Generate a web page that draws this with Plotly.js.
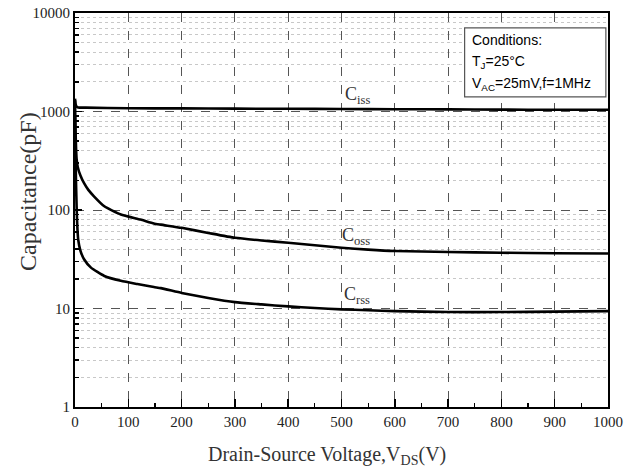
<!DOCTYPE html>
<html><head><meta charset="utf-8">
<script src="https://cdn.plot.ly/plotly-3.0.1.min.js"></script>
<style>html,body{margin:0;padding:0;background:#fff}#plot{width:635px;height:475px}</style>
</head><body><div id="plot"></div>
<script>
// Drain-source voltage (V) and capacitances (pF)
const vCiss = [0, 1, 3, 6, 20, 100, 200, 300, 400, 500, 600, 700, 800, 900, 1000];
const ciss  = [1350, 1200, 1120, 1100, 1095, 1080, 1075, 1070, 1065, 1060, 1055, 1050, 1045, 1042, 1040];

const vCoss = [0, 1, 2, 3, 5, 10, 17, 25, 36, 55, 86, 123, 148, 161, 200, 250, 300, 350, 400, 450, 500, 550, 600, 700, 800, 900, 1000];
const coss  = [1300, 650, 420, 330, 275, 225, 187, 160, 137, 109, 90, 80, 73, 71, 65.9, 58.5, 52.2, 49, 46.5, 43.8, 41.4, 39.6, 38.3, 37.5, 36.8, 36.4, 36.2];

const vCrss = [0, 1, 2, 3, 4, 6, 10, 17, 30, 55, 86, 117, 148, 161, 200, 250, 300, 350, 400, 450, 500, 550, 600, 700, 800, 900, 1000];
const crss  = [900, 350, 180, 110, 75, 50, 39, 31.6, 26, 21.4, 19.1, 17.7, 16.5, 16.1, 14.4, 12.8, 11.6, 11.0, 10.5, 10.1, 9.8, 9.6, 9.4, 9.2, 9.2, 9.3, 9.4];

const xTicks = [0, 100, 200, 300, 400, 500, 600, 700, 800, 900, 1000];
const yTicks = [1, 10, 100, 1000, 10000];
const yTickText = ['1', '10', '100', '1000', '10000'];

const line = {color: '#000', width: 2.6, shape: 'spline', smoothing: 0.5};
const traces = [
  {x: vCiss, y: ciss, mode: 'lines', line: line, hoverinfo: 'skip'},
  {x: vCoss, y: coss, mode: 'lines', line: line, hoverinfo: 'skip'},
  {x: vCrss, y: crss, mode: 'lines', line: line, hoverinfo: 'skip'}
];

const serif = 'Liberation Serif, serif';
const sans = 'Liberation Sans, Arial, sans-serif';
const labelFont = {family: serif, size: 18, color: '#333'};
const condFont = {family: sans, size: 14, color: '#000'};

const layout = {
  width: 635, height: 475,
  margin: {l: 75, r: 27, t: 13, b: 68},
  paper_bgcolor: '#fff', plot_bgcolor: '#fff',
  showlegend: false,
  xaxis: {
    range: [0, 1000], tickvals: xTicks, ticktext: xTicks.map(String),
    ticks: 'inside', ticklen: 8, tickwidth: 1.5, tickcolor: '#000',
    minor: {dtick: 50, ticks: 'inside', ticklen: 4, tickwidth: 1.2, tickcolor: '#000', showgrid: false},
    showgrid: true, gridcolor: '#555', griddash: 'dash', gridwidth: 1,
    showline: true, linecolor: '#000', linewidth: 2, mirror: true,
    zeroline: false,
    tickfont: {family: serif, size: 15, color: '#222'}
  },
  yaxis: {
    type: 'log', range: [0, 4], tickvals: yTicks, ticktext: yTickText,
    ticks: 'inside', ticklen: 7, tickwidth: 1.5, tickcolor: '#000',
    minor: {tickvals: [2,3,4,5,6,7,8,9,20,30,40,50,60,70,80,90,200,300,400,500,600,700,800,900,2000,3000,4000,5000,6000,7000,8000,9000],
            ticks: 'inside', ticklen: 4, tickwidth: 1.5, tickcolor: '#000',
            showgrid: true, gridcolor: '#c8c8c8', griddash: 'dot', gridwidth: 1},
    showgrid: true, gridcolor: '#555', griddash: 'dash', gridwidth: 1,
    showline: true, linecolor: '#000', linewidth: 2, mirror: true,
    zeroline: false,
    tickfont: {family: serif, size: 15, color: '#222'}
  },
  shapes: [
    {type: 'rect', xref: 'paper', yref: 'paper', x0: 0.731, x1: 0.996, y0: 0.787, y1: 0.962,
     line: {color: '#555', width: 1.2}, fillcolor: '#fff', layer: 'above'}
  ],
  annotations: [
    {text: 'Drain-Source Voltage,V<sub>DS</sub>(V)', xref: 'paper', yref: 'paper', x: 0.473, y: -0.122,
     xanchor: 'center', yanchor: 'middle', showarrow: false, font: {family: serif, size: 20, color: '#333'}},
    {text: 'Capacitance(pF)', xref: 'paper', yref: 'paper', x: -0.088, y: 0.546, xanchor: 'center', yanchor: 'middle',
     textangle: -90, showarrow: false, font: {family: serif, size: 24, color: '#333'}},
    {text: 'C<sub>iss</sub>', x: 530, y: 3.165, xref: 'x', yref: 'y', showarrow: false, font: labelFont},
    {text: 'C<sub>oss</sub>', x: 527, y: 1.735, xref: 'x', yref: 'y', showarrow: false, font: labelFont},
    {text: 'C<sub>rss</sub>', x: 530, y: 1.135, xref: 'x', yref: 'y', showarrow: false, font: labelFont},
    {text: 'Conditions:', xref: 'paper', yref: 'paper', x: 0.742, y: 0.931, xanchor: 'left', yanchor: 'middle',
     showarrow: false, font: condFont},
    {text: 'T<sub>J</sub>=25°C', xref: 'paper', yref: 'paper', x: 0.742, y: 0.876, xanchor: 'left', yanchor: 'middle',
     showarrow: false, font: condFont},
    {text: 'V<sub>AC</sub>=25mV,f=1MHz', xref: 'paper', yref: 'paper', x: 0.742, y: 0.820, xanchor: 'left', yanchor: 'middle',
     showarrow: false, font: condFont}
  ]
};

Plotly.newPlot('plot', traces, layout, {displayModeBar: false, staticPlot: true});
</script></body></html>
